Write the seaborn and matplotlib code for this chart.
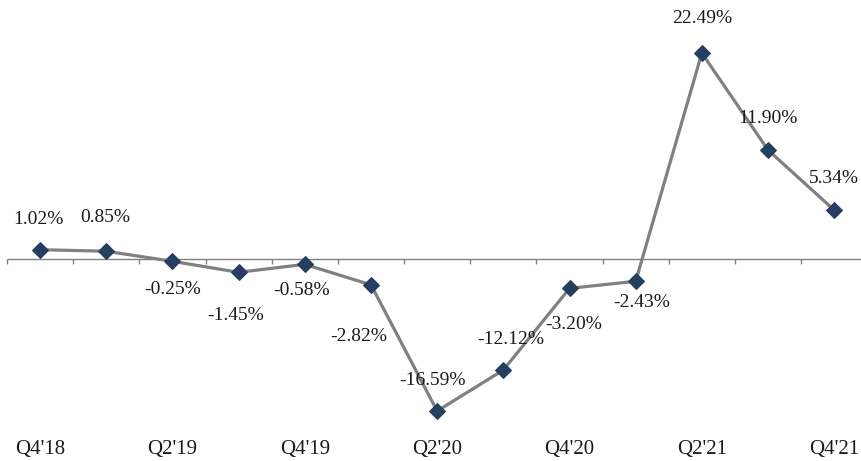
import matplotlib
matplotlib.use("Agg")
import matplotlib.pyplot as plt
import seaborn as sns
import pandas as pd
import numpy as np

quarters = ["Q4'18", "Q1'19", "Q2'19", "Q3'19", "Q4'19", "Q1'20", "Q2'20",
            "Q3'20", "Q4'20", "Q1'21", "Q2'21", "Q3'21", "Q4'21"]
growth = [1.02, 0.85, -0.25, -1.45, -0.58, -2.82, -16.59,
          -12.12, -3.20, -2.43, 22.49, 11.90, 5.34]
shown_ticks = ["Q4'18", "Q2'19", "Q4'19", "Q2'20", "Q4'20", "Q2'21", "Q4'21"]
# label offsets (points) relative to each marker
label_offsets = [(-1, 22), (-1, 24), (0, -20), (-2, -31), (-2, -19), (-9, -37),
                 (-3, 22), (5, 22), (3, -26), (4, -15), (0, 25), (0, 23), (0, 23)]

sns.set_theme(style="white")
plt.rcParams["font.family"] = ["Liberation Serif", "DejaVu Serif"]

df = pd.DataFrame({"pos": np.arange(len(quarters)), "growth": growth})

fig = plt.figure(figsize=(8.62, 4.61), dpi=100)
ax = fig.add_axes([0, 0, 1, 1])

# horizontal category axis at zero with boundary tick marks
n = len(quarters)
bounds = np.arange(n + 1) - 0.5
ax.hlines(0, bounds[0], bounds[-1], color="#808080", lw=1.0, zorder=1)
ax.vlines(bounds, -0.55, 0, color="#808080", lw=1.0, zorder=1)

sns.lineplot(data=df, x="pos", y="growth", ax=ax, color="#808080", lw=2.3,
             marker="D", markersize=8.5, markerfacecolor="#243F60",
             markeredgecolor="#243F60", zorder=3)

for i, (v, off) in enumerate(zip(growth, label_offsets)):
    ax.annotate(f"{v:.2f}%", (i, v), xytext=off, textcoords="offset points",
                ha="center", va="center", fontsize=14, color="#1a1a1a", zorder=4)

for q in shown_ticks:
    ax.text(quarters.index(q), -20.8, q, ha="center", va="center",
            fontsize=15, color="#1a1a1a")

ax.set_xlim(-0.606, 12.42)
ax.set_ylim(-22.05, 28.28)
ax.set_xlabel("")
ax.set_ylabel("")
ax.set_xticks([])
ax.set_yticks([])
for s in ax.spines.values():
    s.set_visible(False)

fig.savefig("out.png", dpi=100)
